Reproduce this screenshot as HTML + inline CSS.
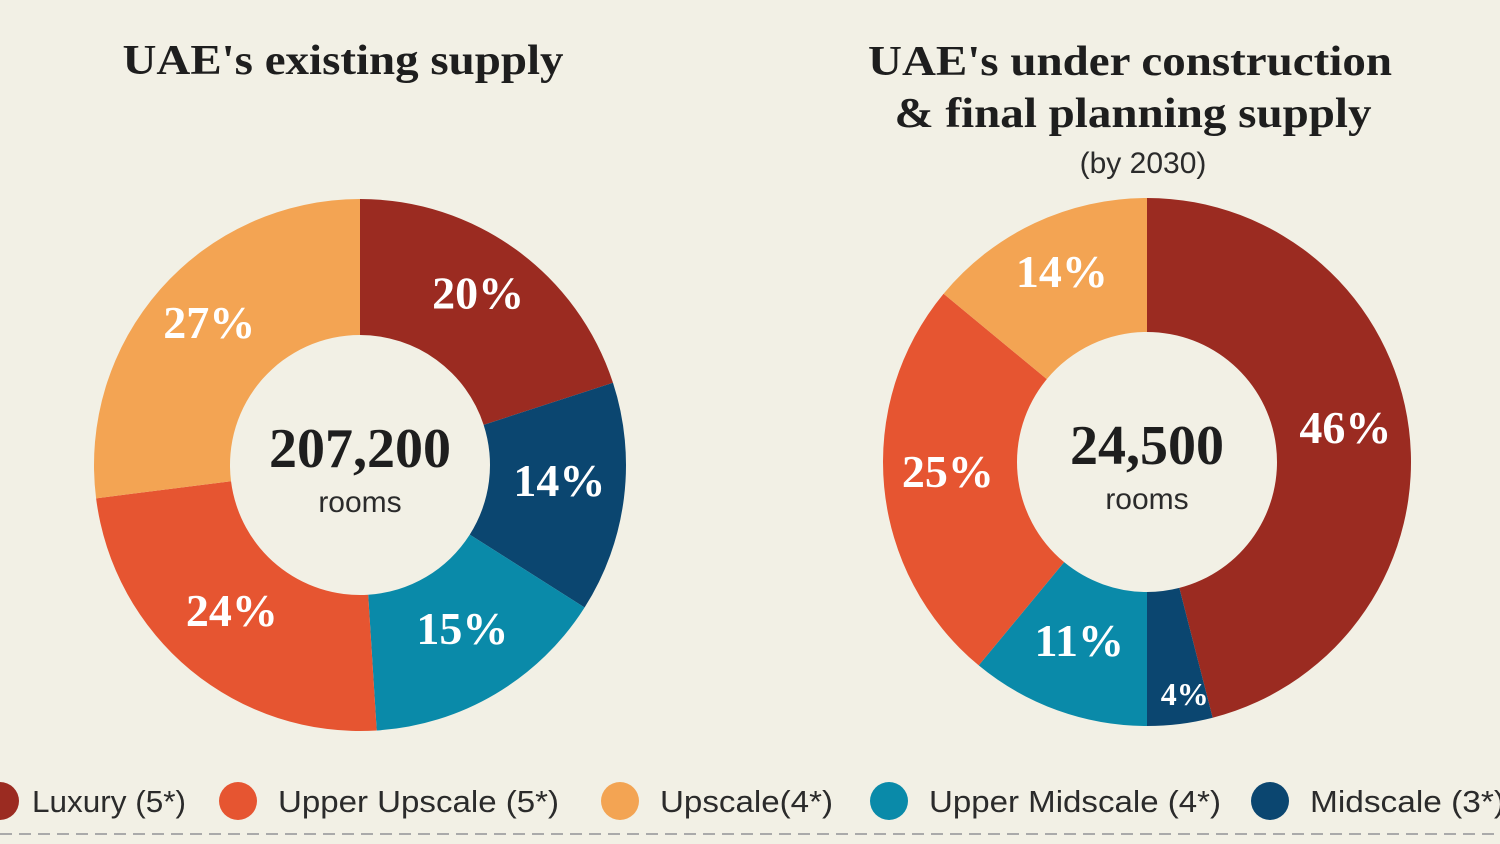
<!DOCTYPE html>
<html><head><meta charset="utf-8"><style>
html,body{margin:0;padding:0;background:#f2f0e5;}
svg{display:block;}
.t{font-family:"Liberation Serif",serif;font-weight:bold;fill:#1e1e1e;}
.s{font-family:"Liberation Sans",sans-serif;fill:#2b2b2b;}
.p{font-family:"Liberation Serif",serif;font-weight:bold;fill:#fff;}
</style></head><body>
<svg id="chart" width="1500" height="844" viewBox="0 0 1500 844" xmlns="http://www.w3.org/2000/svg">
<rect width="1500" height="844" fill="#f2f0e5"/>
<text class="t" x="343" y="74" font-size="42" text-anchor="middle" textLength="441" lengthAdjust="spacingAndGlyphs">UAE's existing supply</text>
<text class="t" x="1130" y="75" font-size="42" text-anchor="middle" textLength="524" lengthAdjust="spacingAndGlyphs">UAE's under construction</text>
<text class="t" x="1133" y="127" font-size="42" text-anchor="middle" textLength="477" lengthAdjust="spacingAndGlyphs">&amp; final planning supply</text>
<text class="s" x="1143" y="173" font-size="30" text-anchor="middle">(by 2030)</text>
<g id="donuts"></g>
<g id="legend"></g>
<line x1="0" y1="834" x2="1500" y2="834" stroke="#aaa" stroke-width="2" stroke-dasharray="12,7"/>
</svg>
<script>
const categories = ["Luxury (5*)","Midscale (3*)","Upper Midscale (4*)","Upper Upscale (5*)","Upscale(4*)"];
const colors = ["#9b2b21","#0b4670","#0a8aa9","#e65531","#f3a453"];
const existingValues = [20,14,15,24,27];
const pipelineValues = [46,4,11,25,14];
const existingTotal = "207,200";
const pipelineTotal = "24,500";
const legendOrder = [0,3,4,2,1];
const legendX = [0,238,620,889,1270];
const legendTextW = [154,281,173,292,195];

const NS="http://www.w3.org/2000/svg";
function mk(tag,attrs,parent){const e=document.createElementNS(NS,tag);for(const k in attrs)e.setAttribute(k,attrs[k]);parent.appendChild(e);return e;}
function pt(cx,cy,r,a){return [cx+r*Math.sin(a),cy-r*Math.cos(a)];}
function donut(values,total,cx,cy,ro,ri,key){
  const g=document.getElementById('donuts');
  const sum=values.reduce((a,b)=>a+b,0);
  let a0=0;
  values.forEach((v,i)=>{
    const a1=a0+v/sum*2*Math.PI;
    const [x1,y1]=pt(cx,cy,ro,a0),[x2,y2]=pt(cx,cy,ro,a1),[x3,y3]=pt(cx,cy,ri,a1),[x4,y4]=pt(cx,cy,ri,a0);
    const lg=(a1-a0)>Math.PI?1:0;
    const p=mk('path',{d:`M${x1},${y1}A${ro},${ro} 0 ${lg} 1 ${x2},${y2}L${x3},${y3}A${ri},${ri} 0 ${lg} 0 ${x4},${y4}Z`,fill:colors[i]},g);
    
    
    const am=(a0+a1)/2;
    const small=v<6;
    const [lx,ly]=pt(cx,cy,small?(ri+ro)/2+40:(ri+ro)/2+3,am);
    const t=mk('text',{x:small?lx+8:lx,y:small?ly+8:ly+6,'font-size':small?32:46,'text-anchor':'middle',class:'p'},g);
    t.textContent=v+'%';
    
    
    a0=a1;
  });
  const n=mk('text',{x:cx,y:cy+2,'font-size':56,'text-anchor':'middle',class:'t'},g);
  n.textContent=total;
  
  
  const r=mk('text',{x:cx,y:cy+47,'font-size':30,'text-anchor':'middle',class:'s'},g);
  r.textContent='rooms';
  
  
}
donut(existingValues,existingTotal,360,465,266,130,'existing');
donut(pipelineValues,pipelineTotal,1147,462,264,130,'pipeline');
const lg=document.getElementById('legend');
legendOrder.forEach((ci,k)=>{
  const c=mk('circle',{cx:legendX[k],cy:801,r:19,fill:colors[ci]},lg);
  
  
  const t=mk('text',{x:legendX[k]+(k===0?32:40),y:812,'font-size':31,class:'s',textLength:legendTextW[k],lengthAdjust:'spacingAndGlyphs'},lg);
  t.textContent=categories[ci];
  
  
});
</script>
</body></html>
